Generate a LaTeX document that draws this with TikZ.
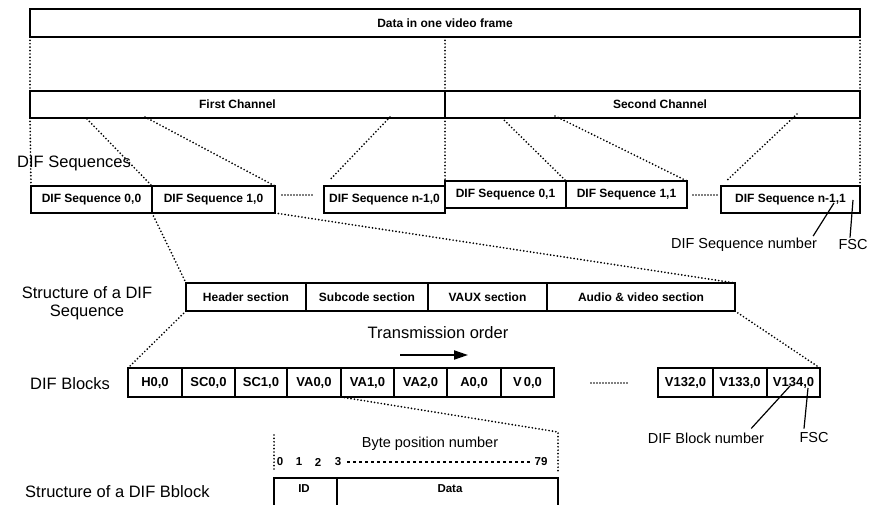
\documentclass[tikz,border=0pt]{standalone}
\usepackage{fontspec}
\setmainfont{Liberation Sans}
\usetikzlibrary{arrows.meta,calc}

% type sizes (1pt = 1 pixel of the finished picture)
\newcommand\fBox{\fontsize{12}{14}\selectfont\bfseries}
\newcommand\fBlk{\fontsize{13}{15}\selectfont\bfseries}
\newcommand\fByte{\fontsize{11.5}{13}\selectfont\bfseries}
\newcommand\fLab{\fontsize{16.5}{19}\selectfont}
\newcommand\fSml{\fontsize{14.5}{17}\selectfont}

\begin{document}
\begin{tikzpicture}[x=1pt,y=-1pt,
  box/.style={draw, line width=1.5pt, inner sep=0pt, outer sep=0pt,
              anchor=north west, font=\fBox},
  seqbox/.style={box, minimum height=27pt, minimum width=#1},
  secbox/.style={box, minimum height=28pt, minimum width=#1},
  blkbox/.style={box, font=\fBlk, minimum height=29pt, minimum width=#1},
  dotline/.style={line width=1.9pt, dash pattern=on 0pt off 3.4pt, line cap=round},
  pointer/.style={line width=1.2pt},
  lab/.style={font=\fLab, inner sep=0pt},
  sml/.style={font=\fSml, inner sep=0pt},
  bytelab/.style={font=\fByte, inner sep=0pt}]

\clip (0,0) rectangle (881,505);
\fill[white] (0,0) rectangle (881,505);

% ---------- whole frame and its two channels ----------
\node[box, minimum width=830pt, minimum height=28pt] (frame) at (30,9) {Data in one video frame};
\node[box, minimum width=415pt, minimum height=27pt] (ch1) at (30,91) {First Channel};
\node[box, minimum width=415pt, minimum height=27pt] (ch2) at (445,91) {};
\node[font=\fBox, inner sep=0pt] (ch2t) at (660,104.5) {Second Channel};

\draw[dotline] (frame.south west) -- (ch1.north west);
\draw[dotline] (frame.south) -- (ch1.north east);
\draw[dotline] (frame.south east) -- (ch2.north east);

% ---------- DIF sequences ----------
\node[lab, anchor=west] (lseq) at (17,163) {DIF Sequences};

\node[seqbox=121pt] (s00) at (31,186) {DIF Sequence 0,0};
\node[seqbox=123pt] (s10) at (152,186) {DIF Sequence 1,0};
\node[seqbox=121pt] (sn0) at (324,186) {DIF Sequence n-1,0};
\node[seqbox=121pt] (s01) at (445,181) {DIF Sequence 0,1};
\node[seqbox=121pt] (s11) at (566,181) {DIF Sequence 1,1};
\node[seqbox=139pt] (sn1) at (721,186) {DIF Sequence n-1,1};

\coordinate (d0a) at (282,195);
\coordinate (d0b) at (313,195);
\coordinate (d1a) at (693,195);
\coordinate (d1b) at (718,195);
\draw[dotline, dash pattern=on 0pt off 3pt] (d0a) -- (d0b);
\draw[dotline, dash pattern=on 0pt off 3pt] (d1a) -- (d1b);

% channel edges down to the sequences
\draw[dotline] (ch1.south west) -- (s00.north west);
\draw[dotline] (ch1.south east) -- (s01.north west);
\draw[dotline] (ch2.south east) -- (sn1.north east);

% fan-out from each channel
\coordinate (f1) at (87,119);
\coordinate (f2) at (145,117);
\coordinate (f3) at (390,117);
\coordinate (f4) at (502,118);
\coordinate (f5) at (555,116);
\coordinate (f6) at (797,114);
\draw[dotline] (f1) -- (s10.north west);
\draw[dotline] (f2) -- (s10.north east);
\draw[dotline, shorten >=8pt] (f3) -- (sn0.north west);
\draw[dotline] (f4) -- (s11.north west);
\draw[dotline] (f5) -- (s11.north east);
\draw[dotline, shorten >=8pt] (f6) -- (sn1.north west);

% sequence number and FSC pointers
\node[sml] (lsn) at (744,245) {DIF Sequence number};
\node[sml] (lsf) at (853,245) {FSC};
\coordinate (psn) at (834,203);
\coordinate (psf) at (853,200);
\draw[pointer] (psn) -- ($(lsn.north east)+(-4,-2)$);
\draw[pointer] (psf) -- ($(lsf.north)+(-3,-2)$);

% ---------- structure of one DIF sequence ----------
\node[lab, align=center] (lstr) at (87,303) {Structure of a DIF\\[-1pt]Sequence};

\node[secbox=120pt] (hdr) at (186,283) {Header section};
\node[secbox=122pt] (sub) at (306,283) {Subcode section};
\node[secbox=119pt] (vaux) at (428,283) {VAUX section};
\node[secbox=188pt] (av) at (547,283) {Audio \& video section};

\draw[dotline] (s10.south west) -- (hdr.north west);
\draw[dotline] (s10.south east) -- (av.north east);

% ---------- DIF blocks ----------
\node[lab] (ltx) at (438,333) {Transmission order};
\coordinate (ta) at (400,355);
\coordinate (tb) at (468,355);
\draw[line width=2pt, -{Triangle[length=14pt,width=9pt]}] (ta) -- (tb);

\node[lab, anchor=west] (lblk) at (30,384) {DIF Blocks};

\node[blkbox=54pt] (b0) at (128,368) {H0,0};
\node[blkbox=53pt] (b1) at (182,368) {SC0,0};
\node[blkbox=52pt] (b2) at (235,368) {SC1,0};
\node[blkbox=54pt] (b3) at (287,368) {VA0,0};
\node[blkbox=53pt] (b4) at (341,368) {VA1,0};
\node[blkbox=53pt] (b5) at (394,368) {VA2,0};
\node[blkbox=54pt] (b6) at (447,368) {A0,0};
\node[blkbox=53pt] (b7) at (501,368) {V\,0,0};
\node[blkbox=55pt] (b132) at (658,368) {V132,0};
\node[blkbox=54pt] (b133) at (713,368) {V133,0};
\node[blkbox=53pt] (b134) at (767,368) {V134,0};

\coordinate (d2a) at (591,383);
\coordinate (d2b) at (627,383);
\draw[dotline, dash pattern=on 0pt off 3pt] (d2a) -- (d2b);

\draw[dotline] (hdr.south west) -- (b0.north west);
\draw[dotline] (av.south east) -- (b134.north east);

% block number and FSC pointers
\node[sml] (lbn) at (706,438) {DIF Block number};
\node[sml] (lbf) at (814,438) {FSC};
\coordinate (pbn) at (790,386);
\coordinate (pbf) at (808,388);
\draw[pointer] (pbn) -- ($(lbn.north east)+(-13,-4)$);
\draw[pointer] (pbf) -- ($(lbf.north)+(-10,-4)$);

% ---------- structure of one DIF block ----------
\node[lab, anchor=west] (lbb) at (25,492) {Structure of a DIF Bblock};

\node[sml] (lbyte) at (430,444) {Byte position number};
\node[bytelab] (n0) at (280,462) {0};
\node[bytelab] (n1) at (299,462) {1};
\node[bytelab] (n2) at (318,462) {2};
\node[bytelab] (n3) at (338,462) {3};
\node[bytelab] (n79) at (541,462) {79};
\draw[line width=1.3pt, dash pattern=on 3pt off 3pt] (n3.east) ++(6,0) -- ($(n79.west)+(-3,0)$);

\node[box, minimum width=63pt, minimum height=40pt] (idb) at (274,478) {};
\node[box, minimum width=221pt, minimum height=40pt] (datab) at (337,478) {};
\node[bytelab] (idt) at (304,489) {ID};
\node[bytelab] (datat) at (450,489) {Data};

\coordinate (bl1) at (274,435);
\coordinate (bl2) at (274,472);
\coordinate (br1) at (558,432);
\coordinate (br2) at (558,472);
\draw[dotline] (bl1) -- (bl2);
\draw[dotline] (b4.south west) -- (br1) -- (br2);

\end{tikzpicture}
\end{document}
